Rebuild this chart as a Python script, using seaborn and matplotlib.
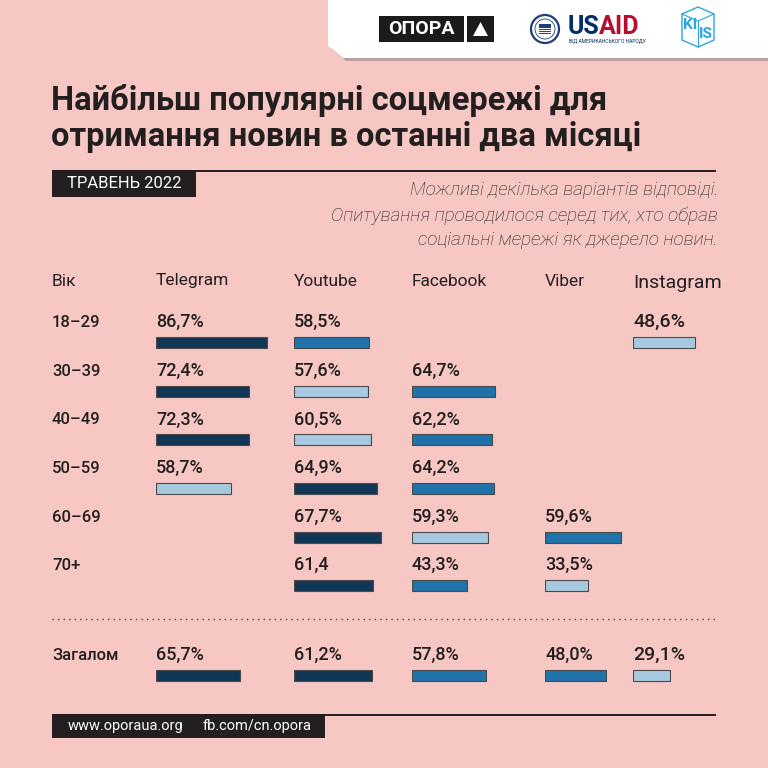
import numpy as np
import pandas as pd
import matplotlib.pyplot as plt
import seaborn as sns
from matplotlib.patches import Rectangle, Polygon, Circle

# Data read from the infographic
platforms = ['Telegram', 'Youtube', 'Facebook', 'Viber', 'Instagram']
age_groups = ['18–29', '30–39', '40–49', '50–59', '60–69', '70+', 'Загалом']
telegram = [86.7, 72.4, 72.3, 58.7, None, None, 65.7]
youtube = [58.5, 57.6, 60.5, 64.9, 67.7, 61.4, 61.2]
facebook = [None, 64.7, 62.2, 64.2, 59.3, 43.3, 57.8]
viber = [None, None, None, None, 59.6, 33.5, 48.0]
instagram = [48.6, None, None, None, None, None, 29.1]
no_percent_label = [('Youtube', '70+')]  # printed as "61,4" in the original

title_lines = ['Найбільш популярні соцмережі для', 'отримання новин в останні два місяці']
date_label = 'ТРАВЕНЬ 2022'
notes = ['Можливі декілька варіантів відповіді.',
         'Опитування проводилося серед тих, хто обрав',
         'соціальні мережі як джерело новин.']
footer = ['www.oporaua.org', 'fb.com/cn.opora']

# Layout (pixels of a 768x768 canvas)
W = H = 768
BG = '#f6c7c3'
INK = '#231f20'
col_x = [156, 294, 412, 545, 633]
bar_y = [342, 391, 439.5, 488, 537, 585, 675]
PX_PER_PCT = 1.28
COL_W = 125
BAR_H = 11
tier_colors = {'dark': '#123756', 'mid': '#1f72aa', 'light': '#a6c9e0'}
tier_names = ['dark', 'mid', 'light']

sns.set_theme(style='white')
plt.rcParams['font.family'] = ['Roboto', 'DejaVu Sans']

# long table of all bars
rows = []
for name, vals in zip(platforms, [telegram, youtube, facebook, viber, instagram]):
    for i, v in enumerate(vals):
        if v is not None:
            rows.append({'platform': name, 'group': i, 'value': v})
df = pd.DataFrame(rows)
rank = df.groupby('group')['value'].rank(ascending=False, method='first').astype(int) - 1
total_idx = len(age_groups) - 1
rank = np.where(df['group'] == total_idx, rank // 2, rank)
df['tier'] = [tier_names[r] for r in rank]
df['y'] = df['group'].map(lambda g: bar_y[g])

fig = plt.figure(figsize=(7.68, 7.68), dpi=100)
fig.patch.set_facecolor(BG)
ax = fig.add_axes([0, 0, 1, 1])
ax.set_xlim(0, W)
ax.set_ylim(H, 0)
ax.axis('off')

# header with logos
ax.add_patch(Polygon([(331, 3), (768, 3), (768, 61), (346, 61), (331, 49)],
                     closed=True, facecolor='#9a8584', alpha=0.6, edgecolor='none'))
ax.add_patch(Polygon([(328, 0), (768, 0), (768, 58), (343, 58), (328, 46)],
                     closed=True, facecolor='white', edgecolor='none'))
ax.add_patch(Rectangle((379, 16), 85, 26, facecolor='#1c1a1b', edgecolor='none'))
ax.text(421.5, 29.5, 'ОПОРА', color='white', fontsize=14, fontweight='bold',
        ha='center', va='center')
ax.add_patch(Rectangle((467, 16), 27, 26, facecolor='#1c1a1b', edgecolor='none'))
ax.add_patch(Polygon([(473, 36), (488, 36), (480.5, 22)], closed=True,
                     facecolor='white', edgecolor='none'))
ax.add_patch(Circle((545, 29), 14, facecolor='white', edgecolor='#1f3d7a', lw=1.6))
ax.add_patch(Circle((545, 29), 10, facecolor='white', edgecolor='#1f3d7a', lw=0.6))
ax.add_patch(Rectangle((539, 24), 12, 4, facecolor='#1f3d7a', edgecolor='none'))
for k in range(3):
    ax.add_patch(Rectangle((539, 29 + k * 2.2), 12, 1.1, facecolor='#ba0c2f', edgecolor='none'))
ax.text(599, 27, 'US', color='#002f6c', fontsize=18, fontweight='bold', ha='right', va='center')
ax.text(599, 27, 'AID', color='#ba0c2f', fontsize=18, fontweight='bold', ha='left', va='center')
ax.text(607, 40.5, 'ВІД АМЕРИКАНСЬКОГО НАРОДУ', color='#002f6c', fontsize=3.6,
        ha='center', va='center')
kiis = '#2aa7df'
ax.add_patch(Polygon([(682, 14), (698, 7), (714, 14), (714, 40), (698, 47), (682, 40)],
                     closed=True, facecolor='none', edgecolor=kiis, lw=1))
ax.plot([682, 698, 714], [14, 21, 14], color=kiis, lw=0.8)
ax.plot([698, 698], [21, 47], color=kiis, lw=0.8)
ax.text(690, 25, 'KI', color=kiis, fontsize=11, fontweight='bold', ha='center', va='center')
ax.text(706, 34, 'IS', color=kiis, fontsize=11, fontweight='bold', ha='center', va='center')

# title
ax.text(51, 110, title_lines[0], color=INK, fontsize=23.5, fontweight='bold', va='baseline')
ax.text(51, 146, title_lines[1], color=INK, fontsize=23.5, fontweight='bold', va='baseline')

ax.plot([52, 716], [170.5, 170.5], color=INK, lw=1.4, solid_capstyle='butt')
ax.add_patch(Rectangle((52, 170), 144, 27, facecolor=INK, edgecolor='none'))
ax.text(124, 184, date_label, color='white', fontsize=12, ha='center', va='center')
for txt, y in zip(notes, [190, 216, 240]):
    ax.text(718, y, txt, color=INK, fontsize=13.6, fontstyle='italic',
            fontweight='light', ha='right', va='center')

# column headers
ax.text(52, 281, 'Вік', color=INK, fontsize=12.5, va='center')
for j, name in enumerate(platforms):
    big = name == 'Instagram'
    ax.text(col_x[j], 283 if big else 281, name, color=INK,
            fontsize=14 if big else 12.5, va='center')

# row labels
for i, g in enumerate(age_groups):
    ax.text(52, bar_y[i] - 15, g, color=INK, fontsize=12, fontweight='medium',
            va='baseline')

# value labels
for _, r in df.iterrows():
    j = platforms.index(r['platform'])
    label = f"{r['value']:.1f}".replace('.', ',')
    if (r['platform'], age_groups[r['group']]) not in no_percent_label:
        label += '%'
    big = r['platform'] == 'Instagram'
    ax.text(col_x[j], bar_y[r['group']] - 15, label, color=INK,
            fontsize=14 if big else 13, fontweight='medium', va='baseline')

ax.plot([52, 716], [619, 619], color='#4a4446', lw=1, linestyle=(0, (1, 3)))

# footer
ax.plot([52, 716], [714.5, 714.5], color=INK, lw=1.4, solid_capstyle='butt')
ax.add_patch(Rectangle((52, 714), 273, 24, facecolor=INK, edgecolor='none'))
ax.text(68, 726, footer[0], color='white', fontsize=10.5, va='center')
ax.text(203, 726, footer[1], color='white', fontsize=10.5, va='center')

# bars, one axes per platform column
for j, name in enumerate(platforms):
    sub = df[df['platform'] == name]
    bax = fig.add_axes([col_x[j] / W, 0, COL_W / W, 1])
    gap = np.diff(np.sort(sub['y'].values)).min()
    sns.barplot(data=sub, x='value', y='y', hue='tier', palette=tier_colors,
                orient='h', native_scale=True, width=BAR_H / gap, dodge=False,
                saturation=1, errorbar=None, edgecolor='#4a4a4a', linewidth=0.8,
                legend=False, ax=bax)
    bax.set_xlim(0, COL_W / PX_PER_PCT)
    bax.set_ylim(H, 0)
    bax.axis('off')

fig.savefig('out.png', dpi=100, facecolor=fig.get_facecolor())
